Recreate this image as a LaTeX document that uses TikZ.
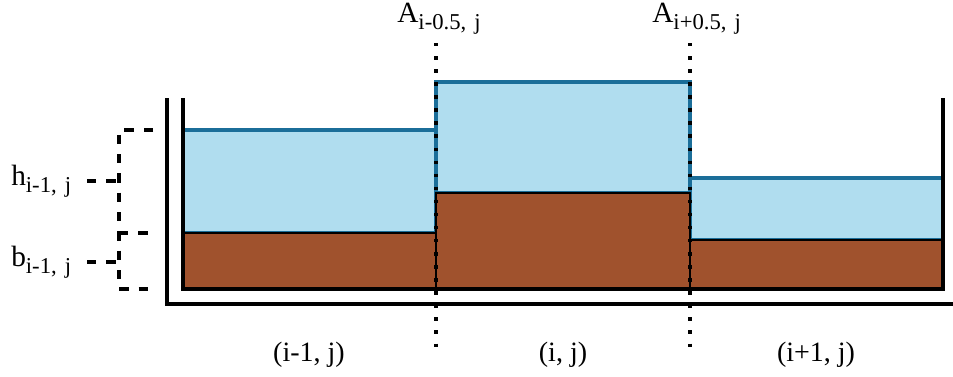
\documentclass[tikz,border=0pt]{standalone}
\usepackage{fontspec}
\setmainfont{Liberation Serif}
\definecolor{water}{RGB}{176,221,239}
\definecolor{waterline}{RGB}{27,110,153}
\definecolor{bedc}{RGB}{160,82,45}
\newcommand{\mylbl}[2]{#1\raisebox{-5.25pt}{\fontsize{17}{17}\selectfont #2}}
\begin{document}
\begin{tikzpicture}[x=0.75pt,y=-0.75pt,
  wallline/.style={line width=2.7pt},
  waterbox/.style={fill=water, draw=waterline, line width=2.4pt},
  bedbox/.style={fill=bedc, draw=black, line width=2pt},
  gridline/.style={line width=2.6pt, dash pattern=on 2.6pt off 7.2pt},
  bracket/.style={line width=2.3pt, dash pattern=on 7pt off 7.5pt},
  lbl/.style={font=\fontsize{22}{22}\selectfont, inner sep=0pt, anchor=base west},
  cell/.style={font=\fontsize{21}{21}\selectfont, inner sep=0pt, anchor=base}]
\useasboundingbox (0,0) rectangle (953,376);
% water
\draw[waterbox] (183,130) rectangle (436,233);
\draw[waterbox] (436,82) rectangle (690,193);
\draw[waterbox] (690,178) rectangle (943,240);
% bed
\draw[bedbox] (183,233) rectangle (436,289);
\draw[bedbox] (436,193) rectangle (690,289);
\draw[bedbox] (690,240) rectangle (943,289);
% container
\draw[wallline] (183,98) -- (183,289) -- (943,289) -- (943,98);
\draw[wallline] (167,98) -- (167,304) -- (953,304);
% interfaces
\coordinate (g1t) at (436,43); \coordinate (g1b) at (436,354);
\coordinate (g2t) at (690,43); \coordinate (g2b) at (690,354);
\draw[gridline] (g1t) -- (g1b);
\draw[gridline] (g2t) -- (g2b);
% labels
\node[lbl] (al) at (397,22) {\mylbl{A}{i-0.5,\hspace{6pt}j}};
\node[lbl] (ar) at (652,22) {\mylbl{A}{i+0.5,\hspace{6pt}j}};
\node[lbl] (hl) at (11,185) {\mylbl{h}{i-1,\hspace{6pt}j}};
\node[lbl] (bl) at (11,266) {\mylbl{b}{i-1,\hspace{6pt}j}};
\node[cell] (c1) at (309,361) {(i-1, j)};
\node[cell] (c2) at (563,361) {(i, j)};
\node[cell] (c3) at (816,361) {(i+1, j)};
% brackets
\coordinate (ht) at (153,130); \coordinate (hc) at (119,130);
\coordinate (bc) at (119,289); \coordinate (bt) at (153,289);
\coordinate (mc) at (119,233); \coordinate (mt) at (153,233);
\coordinate (hs) at (87,181); \coordinate (he) at (119,181);
\coordinate (bs) at (87,262); \coordinate (be) at (119,262);
\draw[bracket] (ht) -- (hc) -- (bc) -- (bt);
\draw[bracket] (mc) -- (mt);
\draw[bracket] (hs) -- (he);
\draw[bracket] (bs) -- (be);
\end{tikzpicture}
\end{document}
